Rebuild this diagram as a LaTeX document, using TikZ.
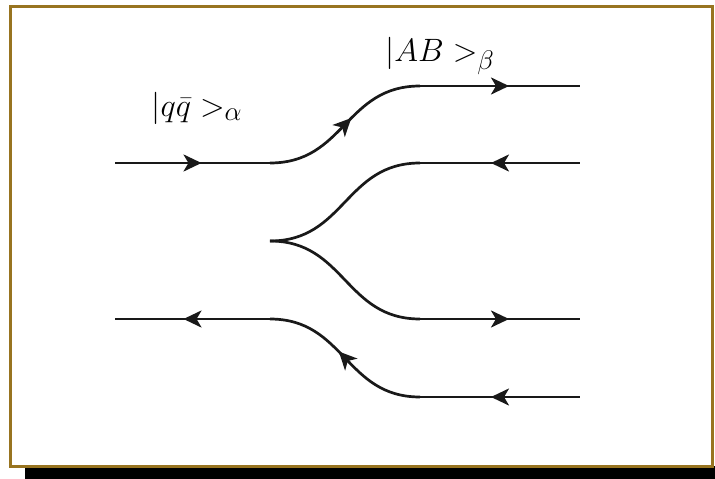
\documentclass[tikz,border=0pt]{standalone}
\usetikzlibrary{arrows.meta,decorations.markings}
\definecolor{framegold}{RGB}{152,116,32}
\tikzset{
  fline/.style={line width=2.7pt, draw=black!90},
  tipshape/.tip={Stealth[length=18pt,width=17pt,inset=5pt]},
  midfwd/.style={postaction={decorate},decoration={markings,mark=at position 0.5 with {\arrow[xshift=9pt]{tipshape}}}},
  midbwd/.style={postaction={decorate},decoration={markings,mark=at position 0.5 with {\arrowreversed[xshift=-9pt]{tipshape}}}},
  lbl/.style={font=\Huge, inner sep=0pt, scale=1.3, transform shape}
}
\begin{document}
\begin{tikzpicture}[x=1pt,y=-1pt]
\useasboundingbox (0,0) rectangle (715,479);
% shadow and frame
\fill[black] (25,466) rectangle (715,479);
\draw[framegold, line width=3pt, fill=white] (10.5,6) rectangle (712.5,466);
% coordinates
\coordinate (L1) at (115,163);
\coordinate (V1) at (270,163);
\coordinate (T1) at (420,86);
\coordinate (E1) at (580,86);
\coordinate (C) at (270,241);
\coordinate (T2) at (420,163);
\coordinate (E2) at (580,163);
\coordinate (T3) at (420,319);
\coordinate (E3) at (580,319);
\coordinate (L2) at (115,319);
\coordinate (V2) at (270,319);
\coordinate (T4) at (420,397);
\coordinate (E4) at (580,397);
% quark line in
\draw[fline, midfwd] (L1) -- (V1);
\draw[fline, midfwd] (V1) .. controls (345,163) and (345,86) .. (T1);
\draw[fline, midfwd] (T1) -- (E1);
% created pair
\draw[fline, midbwd] (T2) -- (E2);
\draw[fline] (C) .. controls (345,241) and (345,163) .. (T2);
\draw[fline] (C) .. controls (345,241) and (345,319) .. (T3);
\draw[fline, midfwd] (T3) -- (E3);
% antiquark line
\draw[fline, midbwd] (L2) -- (V2);
\draw[fline, midbwd] (V2) .. controls (345,319) and (345,397) .. (T4);
\draw[fline, midbwd] (T4) -- (E4);
% labels
\node[lbl] (qq) at (197,108) {$|q\bar q >_\alpha$};
\node[lbl] (ab) at (440,56) {$|AB >_\beta$};
\end{tikzpicture}
\end{document}
